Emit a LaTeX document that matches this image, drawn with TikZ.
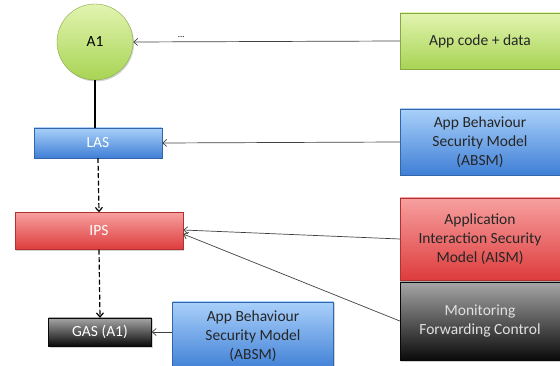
\documentclass[tikz,border=0pt]{standalone}
\usepackage{fontspec}
\setmainfont{Carlito}
\usetikzlibrary{arrows.meta,shadows}
\definecolor{grtop}{HTML}{E2F4B0}
\definecolor{grbot}{HTML}{A8D454}
\definecolor{bltop}{HTML}{A9D0FA}
\definecolor{blbot}{HTML}{3F7FD6}
\definecolor{rdtop}{HTML}{F7A0A0}
\definecolor{rdbot}{HTML}{DE3C3C}
\definecolor{bktop}{HTML}{A6A6A6}
\definecolor{bkbot}{HTML}{0A0A0A}
\begin{document}
\begin{tikzpicture}[x=1pt, y=-1pt,
  every node/.style={font=\fontsize{15.5}{19}\selectfont, align=center, inner sep=0pt},
  box/.style={rectangle, draw=#1bot!80!black, line width=0.4pt, top color=#1top, bottom color=#1bot,
    drop shadow={shadow xshift=1pt, shadow yshift=-1.5pt, opacity=0.35}},
  link/.style={draw=black!75, line width=0.7pt, -{Straight Barb[length=4pt,width=7pt]}},
  flow/.style={draw=black, line width=1.2pt, dash pattern=on 5pt off 2.5pt, -{Straight Barb[length=4pt,width=7pt]}}]
  \useasboundingbox (0,0) rectangle (560,366);
  % left column
  \node[box=gr, circle, minimum size=76pt] (a1) at (95,42) {A1};
  \node[box=bl, minimum width=128pt, minimum height=30pt, text=white] (las) at (98,143) {LAS};
  \node[box=rd, minimum width=168pt, minimum height=37pt, text=white] (ips) at (99,231) {IPS};
  \node[box=bk, minimum width=103pt, minimum height=28pt, text=white] (gas) at (100,332) {GAS (A1)};
  \node[box=bl, minimum width=161pt, minimum height=68pt, text=black!85] (absmb) at (253,336) {App Behaviour\\Security Model\\(ABSM)};
  % right column
  \node[box=gr, minimum width=160pt, minimum height=56pt, text=black!85] (code) at (480,41) {App code + data};
  \node[box=bl, minimum width=160pt, minimum height=66pt, text=black!85] (absma) at (480,142) {App Behaviour\\Security Model\\(ABSM)};
  \node[box=rd, minimum width=160pt, minimum height=82pt, text=black!85] (aism) at (480,239) {Application\\Interaction Security\\Model (AISM)};
  \node[box=bk, minimum width=160pt, minimum height=78pt, text=black!12] (mon) at (480,321) {Monitoring\\Forwarding Control};
  % connectors
  \draw[link] (code.west) -- node[pos=0.82, above=4pt, font=\fontsize{9}{10}\selectfont] {...} (a1.east);
  \draw[line width=1.6pt] (a1.south) -- (a1.south |- las.north);
  \draw[link] (absma.west) -- (las.east);
  \draw[flow] (las.south) -- (ips.north);
  \draw[link] (aism.west) -- ([yshift=1pt]ips.east);
  \draw[link] (mon.west) -- ([yshift=-3pt]ips.east);
  \draw[flow] (ips.south) -- (gas.north);
  \draw[link] (absmb.west |- gas.east) -- (gas.east);
\end{tikzpicture}
\end{document}
